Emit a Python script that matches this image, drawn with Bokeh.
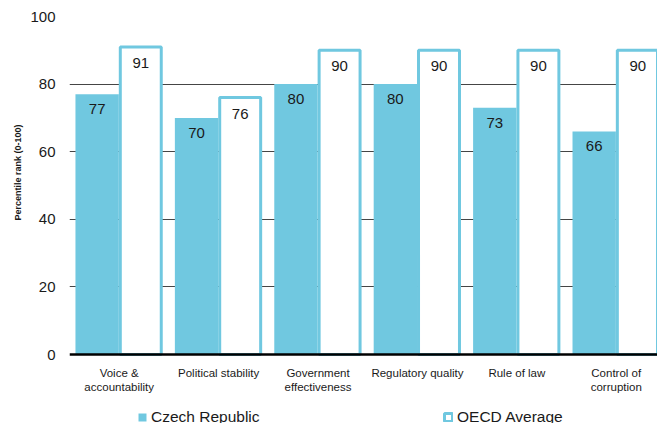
import math
from bokeh.plotting import figure
from bokeh.models import (ColumnDataSource, Range1d, FixedTicker, Legend, LegendItem,
                          Span, Title)
from bokeh.core.properties import value
from bokeh.embed import file_html
from bokeh.resources import INLINE

# Worldwide Governance Indicators, percentile rank (0-100)
categories = ["Voice &\naccountability", "Political stability", "Government\neffectiveness",
              "Regulatory quality", "Rule of law", "Control of\ncorruption"]
czech = [77, 70, 80, 80, 73, 66]
oecd = [91, 76, 90, 90, 90, 90]
y_ticks = [0, 20, 40, 60, 80, 100]

FONT = "Liberation Sans"
BLUE = "#70C8E0"
INK = "#1a1a1a"

idx = [i + 0.5 for i in range(len(categories))]
src = ColumnDataSource(dict(
    xc=[x - 0.222 for x in idx],
    xo=[x + 0.217 for x in idx],
    czech=czech,
    oecd=oecd,
    czech_txt=[str(v) for v in czech],
    oecd_txt=[str(v) for v in oecd],
))
cat_src = ColumnDataSource(dict(x=idx, y=[0] * len(idx), name=categories))

# the frame runs down to the page edge so the category names and the
# legend below the zero line are drawn inside it
p = figure(width=657, height=423, output_backend="svg", toolbar_location=None,
           x_range=Range1d(0, 5.915), y_range=Range1d(-20.41, 100),
           min_border_left=69, min_border_right=0, min_border_top=16, min_border_bottom=0)
p.outline_line_color = None
p.background_fill_color = "white"
p.border_fill_color = "white"
p.xaxis.visible = False

# gridlines
p.xgrid.grid_line_color = None
p.ygrid.grid_line_color = "#454545"
p.ygrid.grid_line_width = 1
p.ygrid.ticker = FixedTicker(ticks=y_ticks[1:])

# y axis: labels only
p.yaxis.ticker = FixedTicker(ticks=y_ticks)
p.yaxis.axis_line_color = None
p.yaxis.major_tick_line_color = None
p.yaxis.minor_tick_line_color = None
p.yaxis.major_label_standoff = 8
p.yaxis.major_label_text_font = FONT
p.yaxis.major_label_text_font_size = "15px"
p.yaxis.major_label_text_color = INK

r_cz = p.vbar(x="xc", top="czech", width=0.436, bottom=0, source=src,
              fill_color=BLUE, line_color=None)
r_oe = p.vbar(x="xo", top="oecd", width=0.412, bottom=0, source=src,
              fill_color="white", line_color=BLUE, line_width=3)

# zero line
p.add_layout(Span(location=0, dimension="width", line_color="black", line_width=2.5))

# value labels inside the top of each bar
p.text(x="xc", y="czech", text="czech_txt", source=src, y_offset=15,
       text_align="center", text_baseline="middle", text_font=value(FONT),
       text_font_size="15px", text_color=INK)
p.text(x="xo", y="oecd", text="oecd_txt", source=src, y_offset=16,
       text_align="center", text_baseline="middle", text_font=value(FONT),
       text_font_size="15px", text_color=INK)

# category names under the zero line
p.text(x="x", y="y", text="name", source=cat_src, y_offset=12,
       text_align="center", text_baseline="top", text_font=value(FONT),
       text_font_size="11.5px", text_color=INK, text_line_height=1.2)

# y axis title, centred on the bar area rather than the whole frame
p.add_layout(Title(text="Percentile rank (0-100)", align="left", offset=203,
                   text_font=FONT, text_font_size="9px", text_font_style="bold",
                   text_color=INK, standoff=10), "left")

def make_legend(label, renderer, loc):
    lg = Legend(items=[LegendItem(label=label, renderers=[renderer])], location=loc,
                orientation="horizontal", padding=0, margin=0, spacing=0,
                glyph_width=10, glyph_height=10, label_height=10, label_standoff=4,
                label_text_font=FONT, label_text_font_size="15.5px",
                label_text_color=INK, border_line_color=None,
                background_fill_alpha=0)
    p.add_layout(lg, "center")

make_legend("Czech Republic", r_cz, (68, -3))
make_legend("OECD Average", r_oe, (374, -3))

open("out.html", "w").write(file_html(p, INLINE))
